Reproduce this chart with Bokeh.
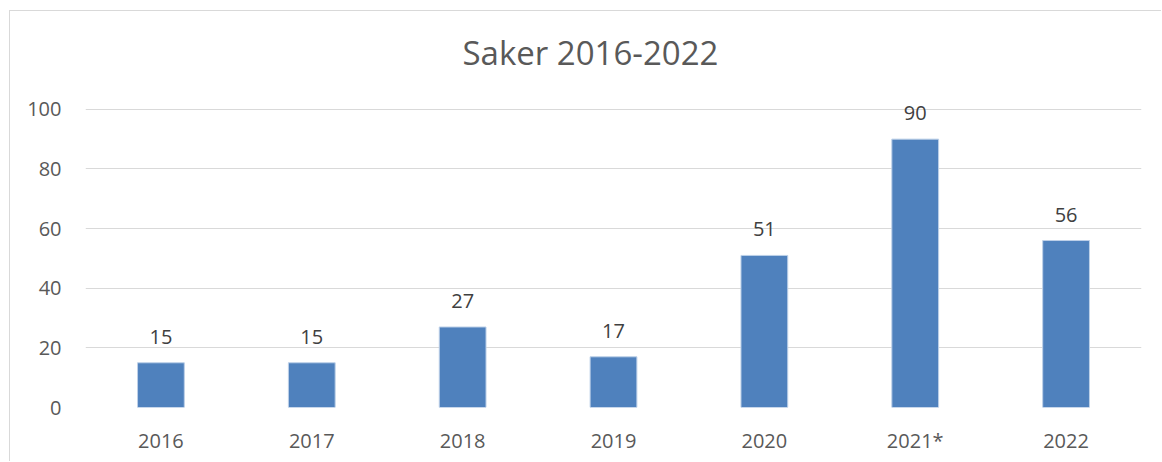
from bokeh.plotting import figure
from bokeh.models import ColumnDataSource, Range1d, FactorRange, LabelSet
from bokeh.core.properties import value
from bokeh.embed import file_html
from bokeh.resources import INLINE

years = ["2016", "2017", "2018", "2019", "2020", "2021*", "2022"]
saker = [15, 15, 27, 17, 51, 90, 56]
y_ticks = [0, 20, 40, 60, 80, 100]

FONT = "Open Sans"
TXT = "#595959"

src = ColumnDataSource(dict(x=years, y=saker, lab=[str(v) for v in saker]))

p = figure(x_range=FactorRange(*years, range_padding=0), y_range=Range1d(0, 110),
           width=1152, height=451, output_backend="svg", toolbar_location=None,
           min_border_left=75, min_border_right=21, min_border_top=68, min_border_bottom=55,
           title="Saker 2016-2022")
p.styles = {"margin-left": "9px", "margin-top": "10px",
            "border-left": "1px solid #d9d9d9", "border-top": "1px solid #d9d9d9"}

p.title.align = "left"
p.title.offset = 377
p.title.text_font = FONT
p.title.text_font_size = "33px"
p.title.text_font_style = "normal"
p.title.text_color = TXT

p.vbar(x="x", top="y", width=0.31, source=src, fill_color="#4F81BD", line_color="#BDD0E8", line_width=1)

labels = LabelSet(x="x", y="y", text="lab", source=src, text_align="center", text_baseline="alphabetic",
                  y_offset=19, text_font=value(FONT), text_font_size=value("20px"), text_color="#404040")
p.add_layout(labels)

p.outline_line_color = None
p.xgrid.grid_line_color = None
p.ygrid.grid_line_color = "#d9d9d9"
p.ygrid.grid_line_width = 1
p.yaxis.ticker = y_ticks

for ax in (p.xaxis, p.yaxis):
    ax.axis_line_color = None
    ax.major_tick_line_color = None
    ax.minor_tick_line_color = None
    ax.major_label_text_font = FONT
    ax.major_label_text_font_size = "20px"
    ax.major_label_text_color = TXT
p.yaxis.major_label_standoff = 18
p.xaxis.major_label_standoff = 13

open("out.html", "w").write(file_html(p, INLINE))
